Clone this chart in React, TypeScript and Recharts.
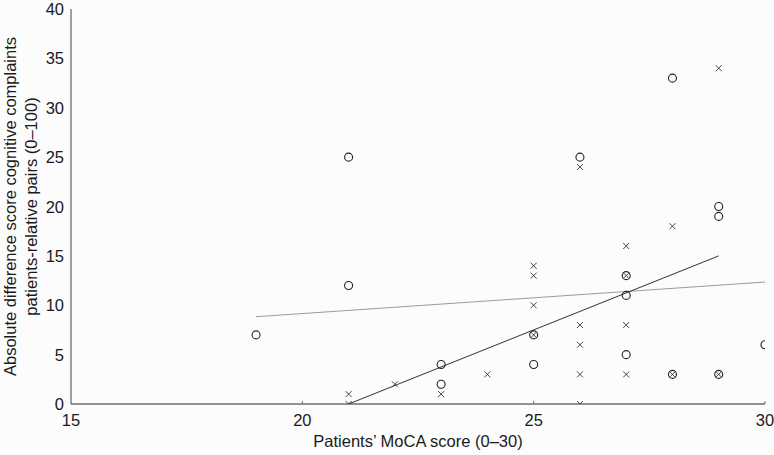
import React from 'react';
import { ScatterChart, Scatter, XAxis, YAxis, Label } from 'recharts';

// Patients (circles)
const circleX = [19, 21, 21, 23, 23, 25, 25, 26, 27, 27, 27, 28, 28, 29, 29, 29, 30];
const circleY = [7, 25, 12, 4, 2, 7, 4, 25, 13, 11, 5, 33, 3, 20, 19, 3, 6];
// Relatives (crosses)
const crossX = [21, 21, 22, 23, 24, 25, 25, 25, 25, 26, 26, 26, 26, 26, 27, 27, 27, 27, 28, 28, 29, 29];
const crossY = [1, 0, 2, 1, 3, 14, 13, 10, 7, 24, 8, 6, 3, 0, 16, 13, 8, 3, 18, 3, 34, 3];
// Fit lines (end points)
const fitCircleX = [19, 30];
const fitCircleY = [8.84, 12.35];
const fitCrossX = [21, 29];
const fitCrossY = [0, 15];

const xTicks = [15, 20, 25, 30];
const yTicks = [0, 5, 10, 15, 20, 25, 30, 35, 40];

const zip = (xs: number[], ys: number[]) => xs.map((x, i) => ({ x, y: ys[i] }));
const circles = zip(circleX, circleY);
const crosses = zip(crossX, crossY);
const fitCircle = zip(fitCircleX, fitCircleY);
const fitCross = zip(fitCrossX, fitCrossY);

const FONT = '"Liberation Sans", Arial, Helvetica, sans-serif';
const AXIS = '#6e6e6e';

const CircleShape = (p: any) => (
  <circle cx={p.cx} cy={p.cy} r={4} fill="none" stroke="#222" strokeWidth={1.1} />
);
const CrossShape = (p: any) => (
  <path
    d={`M${p.cx - 3},${p.cy - 3}L${p.cx + 3},${p.cy + 3}M${p.cx - 3},${p.cy + 3}L${p.cx + 3},${p.cy - 3}`}
    stroke="#333"
    strokeWidth={0.9}
  />
);
const NoShape = () => <g />;

const XTick = (p: any) => {
  const { x, y, payload } = p;
  return (
    <g>
      {payload.value !== 15 && <line x1={x} x2={x} y1={y} y2={y - 3} stroke={AXIS} strokeWidth={1} />}
      <text x={x} y={y + 22} textAnchor="middle" fontSize={16.5} fill="#1a1a1a" fontFamily={FONT}>
        {payload.value}
      </text>
    </g>
  );
};

const YTick = (p: any) => {
  const { x, y, payload } = p;
  return (
    <text x={x} y={y + 6} textAnchor="end" fontSize={16.5} fill="#1a1a1a" fontFamily={FONT}>
      {payload.value}
    </text>
  );
};

const YLabel = (p: any) => {
  const vb = p.viewBox || {};
  const cy = vb.y + vb.height / 2;
  return (
    <g>
      <text
        transform={`translate(16, ${cy}) rotate(-90)`}
        textAnchor="middle"
        fontSize={16.5}
        fill="#1a1a1a"
        fontFamily={FONT}
      >
        Absolute difference score cognitive complaints
      </text>
      <text
        transform={`translate(37, ${cy}) rotate(-90)`}
        textAnchor="middle"
        fontSize={16.5}
        fill="#1a1a1a"
        fontFamily={FONT}
      >
        patients-relative pairs (0–100)
      </text>
    </g>
  );
};

const XLabel = (p: any) => {
  const vb = p.viewBox || {};
  return (
    <text
      x={vb.x + vb.width / 2}
      y={447}
      textAnchor="middle"
      fontSize={16.5}
      fill="#1a1a1a"
      fontFamily={FONT}
    >
      Patients’ MoCA score (0–30)
    </text>
  );
};

export default function App() {
  return (
    <div style={{ position: 'absolute', left: 0, top: 0, background: '#fcfcfc' }}>
      <ScatterChart width={774} height={455} margin={{ top: 9, right: 9, bottom: 0, left: 0 }}>
        <XAxis
          type="number"
          dataKey="x"
          domain={[15, 30]}
          ticks={xTicks}
          interval={0}
          allowDataOverflow
          height={51}
          tickSize={0}
          tickMargin={0}
          tickLine={false}
          axisLine={{ stroke: AXIS, strokeWidth: 1.3 }}
          tick={<XTick />}
        >
          <Label content={<XLabel />} />
        </XAxis>
        <YAxis
          type="number"
          dataKey="y"
          domain={[0, 40]}
          ticks={yTicks}
          interval={0}
          allowDataOverflow
          width={71}
          tickSize={0}
          tickMargin={7}
          tickLine={false}
          axisLine={{ stroke: AXIS, strokeWidth: 1.3 }}
          tick={<YTick />}
        >
          <Label content={<YLabel />} />
        </YAxis>
        <Scatter
          data={fitCircle}
          line={{ stroke: '#9a9a9a', strokeWidth: 1 }}
          shape={NoShape}
          isAnimationActive={false}
        />
        <Scatter
          data={fitCross}
          line={{ stroke: '#333', strokeWidth: 1 }}
          shape={NoShape}
          isAnimationActive={false}
        />
        <Scatter data={crosses} shape={CrossShape} isAnimationActive={false} />
        <Scatter data={circles} shape={CircleShape} isAnimationActive={false} />
      </ScatterChart>
    </div>
  );
}
